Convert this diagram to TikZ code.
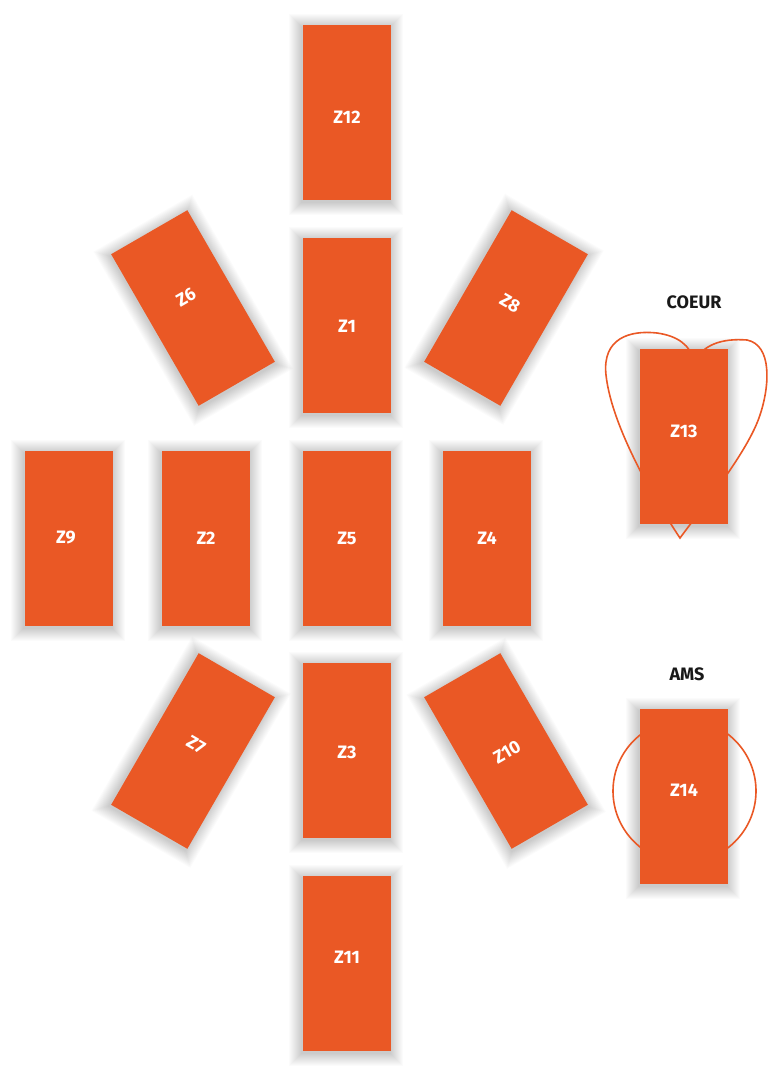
\documentclass[tikz,border=0pt]{standalone}
\usepackage{fontspec}
\setmainfont{Fira Sans}
\definecolor{zorange}{RGB}{234,88,37}
\definecolor{zdark}{RGB}{25,25,25}
\tikzset{
  zone/.style={rectangle, inner sep=0pt, minimum width=88pt, minimum height=175pt,
    fill=zorange},
  zonelabel/.style={text=white, inner sep=0pt, font=\fontsize{18}{18}\selectfont\bfseries},
  grouptitle/.style={text=zdark, font=\fontsize{18}{18}\selectfont\bfseries},
  outline/.style={draw=zorange, line width=1.6pt},
  shadowlayer/.style={fill=black, opacity=0.016}
}
% soft shadow: stacked translucent rectangles (centre x, centre y, angle)
\newcommand{\zoneshadow}[3]{%
  \begin{scope}[shift={(#1,#2)}, rotate=#3]
    \foreach \d in {1,...,13}{
      \fill[shadowlayer] (-44-\d-1,-87.5-\d+2) rectangle (44+\d-1,87.5+\d+2);
    }
  \end{scope}}
\begin{document}
\begin{tikzpicture}[x=1pt,y=-1pt]
\useasboundingbox (0,0) rectangle (768,1077);
\fill[white] (0,0) rectangle (768,1077);
% shadows
\zoneshadow{347}{112.5}{0}
\zoneshadow{347}{325.5}{0}
\zoneshadow{347}{538.5}{0}
\zoneshadow{347}{750.5}{0}
\zoneshadow{347}{963.5}{0}
\zoneshadow{69}{538.5}{0}
\zoneshadow{206}{538.5}{0}
\zoneshadow{487}{538.5}{0}
\zoneshadow{193}{308}{30}
\zoneshadow{506}{308}{-30}
\zoneshadow{193}{751}{-30}
\zoneshadow{506}{751}{30}
\zoneshadow{684}{436.5}{0}
\zoneshadow{684}{796}{0}
% heart and circle behind Z13 and Z14
\draw[outline] (680,538) .. controls (660,508) and (612,430) .. (606,375)
  .. controls (602,338) and (630,330) .. (657,333)
  .. controls (678,336) and (690,345) .. (695,362)
  .. controls (702,345) and (722,338) .. (747,340)
  .. controls (772,345) and (770,385) .. (760,415)
  .. controls (748,452) and (702,508) .. (680,538) -- cycle;
\draw[outline] (684.5,791) circle[radius=71.5];
% zones
\node[zone] (z12) at (347,112.5) {};
\node[zone] (z1)  at (347,325.5) {};
\node[zone] (z5)  at (347,538.5) {};
\node[zone] (z3)  at (347,750.5) {};
\node[zone] (z11) at (347,963.5) {};
\node[zone] (z9)  at (69,538.5) {};
\node[zone] (z2)  at (206,538.5) {};
\node[zone] (z4)  at (487,538.5) {};
\node[zone, rotate=30]  (z6)  at (193,308) {};
\node[zone, rotate=-30] (z8)  at (506,308) {};
\node[zone, rotate=-30] (z7)  at (193,751) {};
\node[zone, rotate=30]  (z10) at (506,751) {};
\node[zone] (z13) at (684,436.5) {};
\node[zone] (z14) at (684,796) {};
% zone labels
\node[zonelabel] (t12) at (347,117) {Z12};
\node[zonelabel] (t1)  at (347,326) {Z1};
\node[zonelabel] (t5)  at (347,538) {Z5};
\node[zonelabel] (t3)  at (347,752) {Z3};
\node[zonelabel] (t11) at (347,957) {Z11};
\node[zonelabel] (t9)  at (66,538) {Z9};
\node[zonelabel] (t2)  at (206,538) {Z2};
\node[zonelabel] (t4)  at (487,538) {Z4};
\node[zonelabel, rotate=30]  (t6)  at (186,297) {Z6};
\node[zonelabel, rotate=-30] (t8)  at (510,303) {Z8};
\node[zonelabel, rotate=-30] (t7)  at (196,745) {Z7};
\node[zonelabel, rotate=30]  (t10) at (507,752) {Z10};
\node[zonelabel] (t13) at (684,431) {Z13};
\node[zonelabel] (t14) at (684,790) {Z14};
% group titles
\node[grouptitle] (coeur) at (694,302) {COEUR};
\node[grouptitle] (ams) at (687,674) {AMS};
\end{tikzpicture}
\end{document}
